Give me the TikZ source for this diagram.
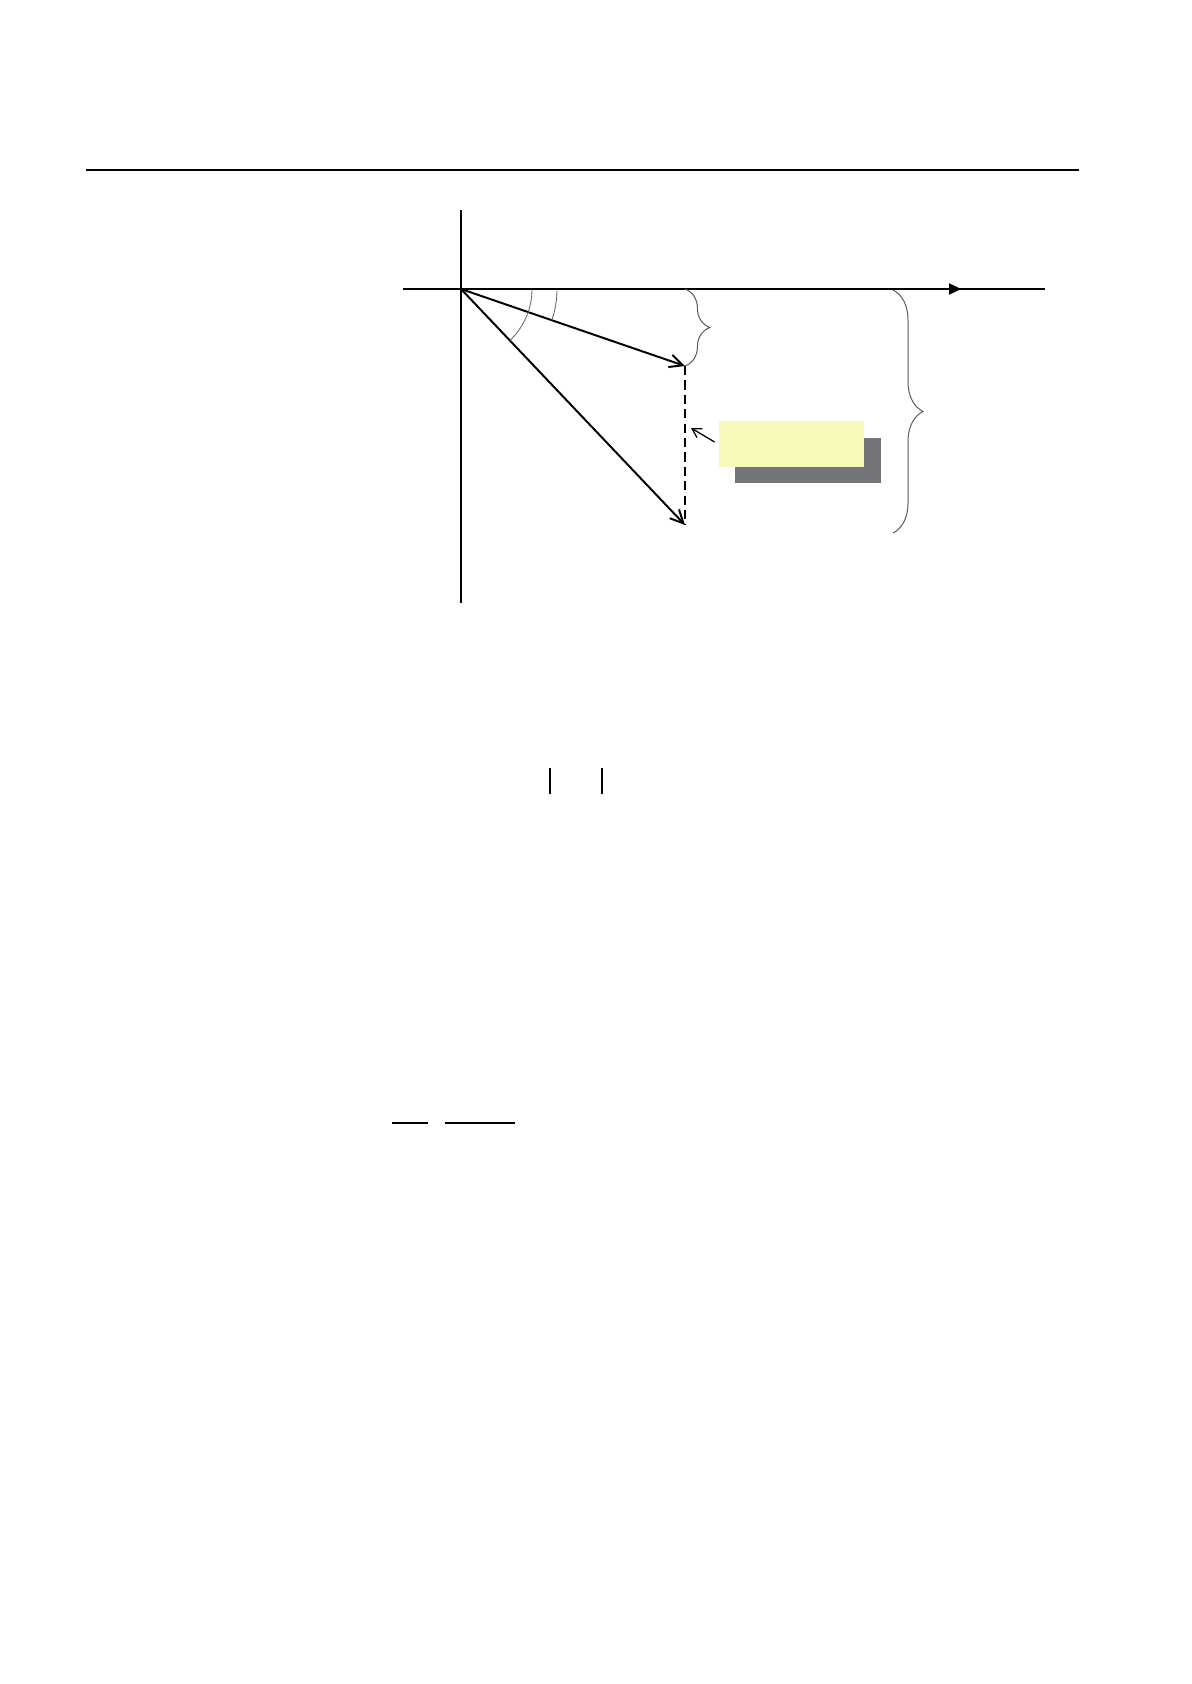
\documentclass[tikz,border=0pt]{standalone}
\usepackage{tikz}
\usetikzlibrary{positioning}
\usetikzlibrary{arrows}
\usetikzlibrary{arrows.meta}
\usetikzlibrary{decorations.pathreplacing,angles,calc}
\definecolor{notefill}{RGB}{248,249,186}
\definecolor{noteshade}{RGB}{115,117,120}
\tikzset{axis line/.style={-,line width=1.4pt},
	vec line/.style={->,line width=1.4pt},
	angle arc/.style={draw=gray!80!black,-,line width=0.6pt},
	brace line/.style={-,draw=gray!70!black,line width=0.7pt,decorate},
	note box/.style={fill=notefill,inner sep=0pt,minimum width=3.625cm,minimum height=1.15cm},
	shade box/.style={fill=noteshade,inner sep=0pt,minimum width=3.65cm,minimum height=1.125cm},}

\begin{document}
\begin{tikzpicture}[x=0.025cm, y=-0.025cm, >={Straight Barb[length=3.3mm,width=3.2mm]}, semithick]
	\useasboundingbox[fill=white] (0,0) rectangle (1191,1684);
	% head rule
	\draw[line width=1.1pt] (86,170) -- (1079,170);

	\coordinate (O) at (461,289);
	\coordinate (xl) at (403,289);
	\coordinate (xr) at (1045,289);
	\coordinate (yt) at (461,210);
	\coordinate (yb) at (461,603);
	\coordinate (A) at (685,366);
	\coordinate (B) at (685,525);
	\coordinate (xa) at (949,289);
	\coordinate (b1) at (893,290);
	\coordinate (b2) at (893,533);

	% axes
	\path[axis line]
	(xl) edge (xr)
	(yt) edge (yb);
	\draw[-{Triangle[length=3mm,width=2.8mm]},line width=1.2pt] (xa) -- ++(12,0);

	% vectors
	\path[vec line]
	(O) edge (A)
	(O) edge (B)
	(A) edge [-,line width=1.7pt,dash pattern=on 2.3mm off 1.3mm] (B);

	% angles
	\pic[angle arc, angle radius=2.4cm] {angle = A--O--xr};
	\pic[angle arc, angle radius=1.775cm] {angle = B--O--xr};

	% braces
	\draw[brace line, decoration={brace,amplitude=0.62cm}] (A |- O) -- (A);
	\draw[brace line, decoration={brace,amplitude=0.75cm}] (b1) -- (b2);

	% note
	\node[shade box] (shade) at (808,460.5) {};
	\node[note box] (note) at (791.5,444) {};
	\draw[->,>={Straight Barb[length=2.2mm,width=2.6mm]},line width=0.9pt] (note.west) ++(-4,-2) coordinate (p) -- (691,428);

	% rules left of the equations
	\draw[line width=1.1pt] (550,768) -- (550,794);
	\draw[line width=1.1pt] (602,768) -- (602,794);
	\draw[line width=1.1pt] (392,1123) -- (428,1123);
	\draw[line width=1.1pt] (445,1123) -- (515,1123);
\end{tikzpicture}
\end{document}
